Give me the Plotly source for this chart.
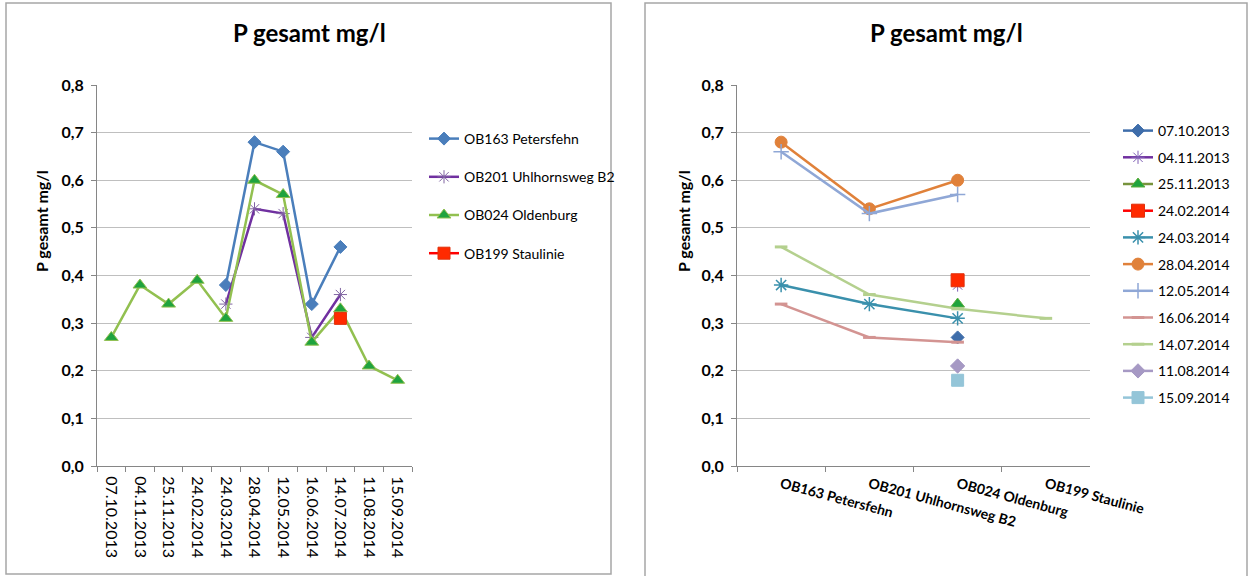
import plotly.graph_objects as go

W, H = 1249, 576

# ---------------- data ----------------
dates = ["07.10.2013", "04.11.2013", "25.11.2013", "24.02.2014", "24.03.2014",
         "28.04.2014", "12.05.2014", "16.06.2014", "14.07.2014", "11.08.2014", "15.09.2014"]
stations = ["OB163 Petersfehn", "OB201 Uhlhornsweg B2", "OB024 Oldenburg", "OB199 Staulinie"]

ob163 = [None, None, None, None, 0.38, 0.68, 0.66, 0.34, 0.46, None, None]
ob201 = [None, None, None, None, 0.34, 0.54, 0.53, 0.27, 0.36, None, None]
ob024 = [0.27, 0.38, 0.34, 0.39, 0.31, 0.60, 0.57, 0.26, 0.33, 0.21, 0.18]
ob199 = [None, None, None, None, None, None, None, None, 0.31, None, None]

station_values = [ob163, ob201, ob024, ob199]

y_ticks = [0.0, 0.1, 0.2, 0.3, 0.4, 0.5, 0.6, 0.7, 0.8]

title_text = "P gesamt mg/l"
ytitle_text = "P gesamt mg/l"

# ---------------- styles ----------------
left_styles = [
    dict(color="#4A7EBB", symbol="diamond", size=10, mcolor="#4A7EBB", mline="#4A7EBB", mlw=1),
    dict(color="#7030A0", symbol="asterisk-open", size=11, mcolor="#8064A2", mline="#8A5CC0", mlw=1),
    dict(color="#92C050", symbol="triangle-up", size=12, mcolor="#1FA33E", mline="#92C050", mlw=1),
    dict(color="#FF0000", symbol="square", size=12, mcolor="#FF2A00", mline="#E0300B", mlw=1),
]

right_styles = [
    dict(color="#3E6DAA", symbol="diamond", size=10, mcolor="#3E6DAA", mline="#3E6DAA", mlw=1),
    dict(color="#7030A0", symbol="asterisk-open", size=11, mcolor="#7F5FB5", mline="#7F5FB5", mlw=1),
    dict(color="#77933C", symbol="triangle-up", size=12, mcolor="#1FA33E", mline="#5FAF3C", mlw=1),
    dict(color="#FF0000", symbol="square", size=13, mcolor="#FF2A00", mline="#E0300B", mlw=1),
    dict(color="#3A90AC", symbol="asterisk-open", size=12, mcolor="#3A90AC", mline="#3A90AC", mlw=1.5),
    dict(color="#E0813A", symbol="circle", size=12, mcolor="#E0813A", mline="#E0813A", mlw=1),
    dict(color="#8FA7D6", symbol="cross-thin-open", size=11, mcolor="#8FA7D6", mline="#8FA7D6", mlw=1.5),
    dict(color="#D39492", symbol="line-ew-open", size=9, mcolor="#D39492", mline="#D39492", mlw=3),
    dict(color="#B4D08E", symbol="line-ew-open", size=9, mcolor="#B4D08E", mline="#B4D08E", mlw=3),
    dict(color="#A699C4", symbol="diamond", size=11, mcolor="#A699C4", mline="#A699C4", mlw=1),
    dict(color="#94C5D8", symbol="square", size=12, mcolor="#94C5D8", mline="#94C5D8", mlw=1),
]

FONT = "Lato, 'Liberation Sans', sans-serif"

fig = go.Figure()

# left chart: one trace per station across dates
for name, vals, st in zip(stations, station_values, left_styles):
    fig.add_trace(go.Scatter(
        x=dates, y=vals, name=name, mode="lines+markers",
        line=dict(color=st["color"], width=2.5),
        marker=dict(symbol=st["symbol"], size=st["size"], color=st["mcolor"],
                    line=dict(color=st["mline"], width=st["mlw"])),
        xaxis="x", yaxis="y", legend="legend", legendgroup="L" + name,
        connectgaps=False,
    ))

# right chart: one trace per date across stations (same data, transposed)
for i, (d, st) in enumerate(zip(dates, right_styles)):
    vals = [sv[i] for sv in station_values]
    fig.add_trace(go.Scatter(
        x=stations, y=vals, name=d, mode="lines+markers",
        line=dict(color=st["color"], width=2.5),
        marker=dict(symbol=st["symbol"], size=st["size"], color=st["mcolor"],
                    line=dict(color=st["mline"], width=st["mlw"])),
        xaxis="x2", yaxis="y2", legend="legend2", legendgroup="R" + d,
        connectgaps=False,
    ))


def px_x(p):
    return p / W


def px_y(p):
    return 1 - p / H


plot_top, plot_bot = 85, 466
axis_common = dict(
    showline=True, linecolor="#868686", linewidth=1,
    ticks="outside", ticklen=5, tickcolor="#868686", automargin=False,
)
yaxis_common = dict(
    range=[0, 0.8], tickvals=y_ticks, tickformat=".1f",
    showgrid=True, gridcolor="#BFBFBF", gridwidth=1, zeroline=False,
    tickfont=dict(family=FONT, size=16, color="#000000", weight="bold"),
    ticklabelstandoff=4,
    **axis_common,
)

fig.update_layout(
    width=W, height=H, autosize=False,
    margin=dict(l=0, r=0, t=0, b=0, autoexpand=False),
    paper_bgcolor="white", plot_bgcolor="white",
    separators=",.",
    font=dict(family=FONT, color="#000000"),
    xaxis=dict(domain=[px_x(97), px_x(412)], type="category", tickson="boundaries",
               tickangle=90, showgrid=False, ticklabelstandoff=6,
               tickfont=dict(family=FONT, size=16, color="#000000"),
               range=[-0.5, 10.5], **axis_common),
    yaxis=dict(domain=[px_y(plot_bot), px_y(plot_top)], anchor="x", **yaxis_common),
    xaxis2=dict(domain=[px_x(737), px_x(1090)], type="category", tickson="boundaries",
                tickangle=15, showgrid=False, anchor="y2", ticklabelstandoff=4,
                tickfont=dict(family=FONT, size=14, color="#000000", weight="bold"),
                range=[-0.5, 3.5], **axis_common),
    yaxis2=dict(domain=[px_y(plot_bot), px_y(plot_top)], anchor="x2", **yaxis_common),
    legend=dict(x=px_x(424), y=px_y(123), xanchor="left", yanchor="top",
                xref="container", yref="container", maxheight=450,
                traceorder="grouped", tracegroupgap=17, itemwidth=30,
                font=dict(family=FONT, size=14, color="#000000"),
                bgcolor="rgba(0,0,0,0)"),
    legend2=dict(x=px_x(1118), y=px_y(115), xanchor="left", yanchor="top",
                 xref="container", yref="container", maxheight=450,
                 traceorder="grouped", tracegroupgap=5.5, itemwidth=30,
                 font=dict(family=FONT, size=14, color="#000000"),
                 bgcolor="rgba(0,0,0,0)"),
    showlegend=True,
)

# panel borders
fig.add_shape(type="rect", xref="paper", yref="paper",
              x0=px_x(6), x1=px_x(611), y0=px_y(574), y1=px_y(3),
              line=dict(color="#A6A6A6", width=1.5), layer="below")
fig.add_shape(type="rect", xref="paper", yref="paper",
              x0=px_x(645), x1=px_x(1247), y0=px_y(580), y1=px_y(3),
              line=dict(color="#A6A6A6", width=1.5), layer="below")

# titles
for cx in (309, 946):
    fig.add_annotation(text=f"<b>{title_text}</b>", xref="paper", yref="paper",
                       x=px_x(cx), y=px_y(33), xanchor="center", yanchor="middle",
                       showarrow=False, font=dict(family=FONT, size=24, color="#000000"))
for cx in (41, 683):
    fig.add_annotation(text=f"<b>{ytitle_text}</b>", xref="paper", yref="paper",
                       x=px_x(cx), y=px_y(221), xanchor="center", yanchor="middle",
                       textangle=-90, showarrow=False,
                       font=dict(family=FONT, size=16, color="#000000"))

fig.write_html("out.html")
